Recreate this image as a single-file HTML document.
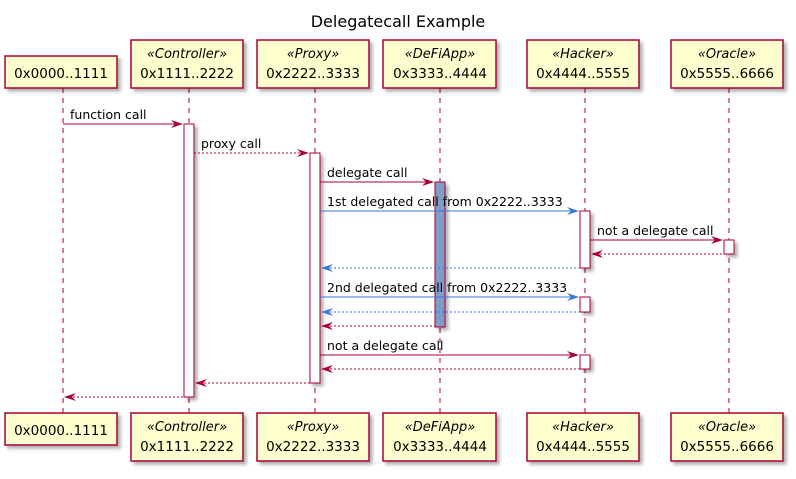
<!DOCTYPE html>
<html><head><meta charset="utf-8"><style>
body{margin:0;background:#fff}
text{font-family:"DejaVu Sans",sans-serif}
</style></head><body>
<svg width="796" height="474" viewBox="0 0 796 474" xmlns="http://www.w3.org/2000/svg">
<defs>
<filter id="sh" x="-10%" y="-10%" width="130%" height="140%"><feDropShadow dx="3" dy="3" stdDeviation="1.5" flood-color="#000" flood-opacity="0.3"/></filter>
</defs>
<text x="398" y="27" font-size="16" text-anchor="middle">Delegatecall Example</text>
<g stroke="#A80036" stroke-width="1" stroke-dasharray="5,5">
<line x1="63" y1="88" x2="63" y2="413"/><line x1="189" y1="88" x2="189" y2="413"/>
<line x1="315" y1="88" x2="315" y2="413"/><line x1="440" y1="88" x2="440" y2="413"/>
<line x1="585" y1="88" x2="585" y2="413"/><line x1="729" y1="88" x2="729" y2="413"/>
</g>
<g fill="#FEFECE" stroke="#A80036" stroke-width="1.5" filter="url(#sh)">
<rect x="5" y="56" width="112" height="32"/><rect x="131" y="40" width="112" height="48"/>
<rect x="257" y="40" width="112" height="48"/><rect x="383" y="40" width="113" height="48"/>
<rect x="527" y="40" width="112" height="48"/><rect x="671" y="40" width="112" height="48"/>
<rect x="5" y="413" width="112" height="32"/><rect x="131" y="413" width="112" height="48"/>
<rect x="257" y="413" width="112" height="48"/><rect x="383" y="413" width="113" height="48"/>
<rect x="527" y="413" width="112" height="48"/><rect x="671" y="413" width="112" height="48"/>
</g>
<g font-size="13.5" text-anchor="middle">
<text x="61" y="78">0x0000..1111</text>
<text x="187" y="58" font-style="italic" font-size="13">«Controller»</text><text x="187" y="78">0x1111..2222</text>
<text x="313" y="58" font-style="italic" font-size="13">«Proxy»</text><text x="313" y="78">0x2222..3333</text>
<text x="440" y="58" font-style="italic" font-size="13">«DeFiApp»</text><text x="440" y="78">0x3333..4444</text>
<text x="583" y="58" font-style="italic" font-size="13">«Hacker»</text><text x="583" y="78">0x4444..5555</text>
<text x="727" y="58" font-style="italic" font-size="13">«Oracle»</text><text x="727" y="78">0x5555..6666</text>
<text x="61" y="435">0x0000..1111</text>
<text x="187" y="431" font-style="italic" font-size="13">«Controller»</text><text x="187" y="451">0x1111..2222</text>
<text x="313" y="431" font-style="italic" font-size="13">«Proxy»</text><text x="313" y="451">0x2222..3333</text>
<text x="440" y="431" font-style="italic" font-size="13">«DeFiApp»</text><text x="440" y="451">0x3333..4444</text>
<text x="583" y="431" font-style="italic" font-size="13">«Hacker»</text><text x="583" y="451">0x4444..5555</text>
<text x="727" y="431" font-style="italic" font-size="13">«Oracle»</text><text x="727" y="451">0x5555..6666</text>
</g>
<g stroke="#A80036" stroke-width="1" filter="url(#sh)">
<rect x="184" y="124" width="10" height="273" fill="#fff"/>
<rect x="310" y="153" width="10" height="230" fill="#fff"/>
<rect x="435" y="182" width="10" height="145" fill="#7E9DC9"/>
<rect x="580" y="211" width="10" height="57" fill="#fff"/>
<rect x="580" y="297" width="10" height="15" fill="#fff"/>
<rect x="580" y="355" width="10" height="14" fill="#fff"/>
<rect x="724" y="240" width="10" height="14" fill="#fff"/>
</g>
<g stroke-width="1" fill="none">
<g stroke="#A80036">
<line x1="63" y1="124" x2="182" y2="124"/>
<line x1="194" y1="153" x2="308" y2="153" stroke-dasharray="2,2"/>
<line x1="320" y1="182" x2="433" y2="182"/>
<line x1="590" y1="240" x2="722" y2="240"/>
<line x1="592" y1="254" x2="724" y2="254" stroke-dasharray="2,2"/>
<line x1="322" y1="326" x2="435" y2="326" stroke-dasharray="2,2"/>
<line x1="320" y1="355" x2="578" y2="355"/>
<line x1="322" y1="369" x2="580" y2="369" stroke-dasharray="2,2"/>
<line x1="196" y1="383" x2="310" y2="383" stroke-dasharray="2,2"/>
<line x1="65" y1="397" x2="184" y2="397" stroke-dasharray="2,2"/>
</g>
<g stroke="#3A77D6">
<line x1="320" y1="211" x2="578" y2="211"/>
<line x1="322" y1="268" x2="580" y2="268" stroke-dasharray="2,2"/>
<line x1="320" y1="297" x2="578" y2="297"/>
<line x1="322" y1="312" x2="580" y2="312" stroke-dasharray="2,2"/>
</g>
</g>
<g fill="#A80036">
<path d="M183,124 l-12,-4 l4,4 l-4,4z"/><path d="M309,153 l-12,-4 l4,4 l-4,4z"/>
<path d="M434,182 l-12,-4 l4,4 l-4,4z"/><path d="M723,240 l-12,-4 l4,4 l-4,4z"/>
<path d="M579,355 l-12,-4 l4,4 l-4,4z"/>
<path d="M591,254 l12,-4 l-4,4 l4,4z"/><path d="M321,326 l12,-4 l-4,4 l4,4z"/>
<path d="M321,369 l12,-4 l-4,4 l4,4z"/><path d="M195,383 l12,-4 l-4,4 l4,4z"/>
<path d="M64,397 l12,-4 l-4,4 l4,4z"/>
</g>
<g fill="#3A77D6">
<path d="M579,211 l-12,-4 l4,4 l-4,4z"/>
<path d="M579,297 l-12,-4 l4,4 l-4,4z"/>
<path d="M321,268 l12,-4 l-4,4 l4,4z"/><path d="M321,312 l12,-4 l-4,4 l4,4z"/>
</g>
<g font-size="12.5">
<text x="70" y="119">function call</text>
<text x="201" y="148">proxy call</text>
<text x="327" y="177">delegate call</text>
<text x="327" y="206">1st delegated call from 0x2222..3333</text>
<text x="597" y="235">not a delegate call</text>
<text x="327" y="292">2nd delegated call from 0x2222..3333</text>
<text x="327" y="350">not a delegate call</text>
</g>
</svg>
</body></html>
